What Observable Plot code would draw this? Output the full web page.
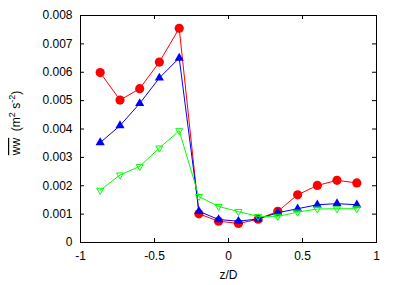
<!DOCTYPE html>
<html>
<head>
<meta charset="utf-8">
<script src="https://cdn.jsdelivr.net/npm/d3@7"></script>
<script src="https://cdn.jsdelivr.net/npm/@observablehq/plot@0.6"></script>
<style>
  html, body { margin: 0; padding: 0; background: #fff; }
  #chart { width: 407px; height: 285px; }
</style>
</head>
<body>
<div id="chart"></div>
<script>
const zD = [-0.867, -0.733, -0.6, -0.467, -0.333, -0.2, -0.067, 0.067, 0.2, 0.333, 0.467, 0.6, 0.733, 0.867];
const redVals = [0.00599, 0.00502, 0.00542, 0.00636, 0.00755, 0.00101, 0.00075, 0.00067, 0.00082, 0.00110, 0.00168, 0.00201, 0.00219, 0.00210];
const blueVals = [0.00352, 0.00412, 0.00490, 0.00580, 0.00650, 0.00110, 0.00081, 0.00075, 0.00083, 0.00105, 0.00119, 0.00133, 0.00137, 0.00133];
const greenVals = [0.00184, 0.00238, 0.00268, 0.00333, 0.00394, 0.00162, 0.00127, 0.00109, 0.00092, 0.00092, 0.00107, 0.00118, 0.00119, 0.00119];
const xTicks = [-1, -0.5, 0, 0.5, 1];
const xTickLabels = ["-1", "-0.5", "0", "0.5", "1"];
const yTicks = [0, 0.001, 0.002, 0.003, 0.004, 0.005, 0.006, 0.007, 0.008];
const yTickLabels = ["0", "0.001", "0.002", "0.003", "0.004", "0.005", "0.006", "0.007", "0.008"];

const rows = (vals) => zD.map((z, i) => ({z, v: vals[i]}));
const W = 407, H = 285;
const mL = 80, mR = 31, mT = 15, mB = 43;
const yMax = 0.008;
const tickPx = 4;
const tickLenY = tickPx * yMax / (H - mT - mB);
const tickLenX = tickPx * 2 / (W - mL - mR);

const plot = Plot.plot({
  width: W, height: H,
  marginLeft: mL, marginRight: mR, marginTop: mT, marginBottom: mB,
  style: {fontFamily: "'Liberation Sans', Arial, sans-serif", fontSize: "12px", color: "black", background: "white"},
  x: {domain: [-1, 1]},
  y: {domain: [0, yMax]},
  marks: [
    Plot.axisX({ticks: xTicks, tickSize: 0, tickPadding: 9, tickFormat: (d) => xTickLabels[xTicks.indexOf(d)], fontSize: 12, label: null}),
    Plot.axisY({ticks: yTicks, tickSize: 0, tickPadding: 8, tickFormat: (d) => yTickLabels[yTicks.indexOf(d)], fontSize: 12, label: null}),
    Plot.ruleX(xTicks.slice(1, -1), {x: d => d, y1: 0, y2: tickLenY, stroke: "black"}),
    Plot.ruleX(xTicks.slice(1, -1), {x: d => d, y1: yMax - tickLenY, y2: yMax, stroke: "black"}),
    Plot.ruleY(yTicks.slice(1, -1), {y: d => d, x1: -1, x2: -1 + tickLenX, stroke: "black"}),
    Plot.ruleY(yTicks.slice(1, -1), {y: d => d, x1: 1 - tickLenX, x2: 1, stroke: "black"}),
    Plot.line(rows(redVals), {x: "z", y: "v", stroke: "#ff0000", strokeWidth: 1}),
    Plot.dot(rows(redVals), {x: "z", y: "v", r: 4.6, fill: "#ff0000", symbol: "circle"}),
    Plot.line(rows(blueVals), {x: "z", y: "v", stroke: "#0000ff", strokeWidth: 1}),
    Plot.dot(rows(blueVals), {x: "z", y: "v", r: 3.4, fill: "#0000ff", symbol: "triangle"}),
    Plot.line(rows(greenVals), {x: "z", y: "v", stroke: "#00ff00", strokeWidth: 1}),
    Plot.dot(rows(greenVals), {x: "z", y: "v", r: 2.6, fill: "none", stroke: "#00ff00", strokeWidth: 1, symbol: "triangle", rotate: 180}),
    Plot.frame({stroke: "black", strokeWidth: 1}),
    Plot.text(["z/D"], {frameAnchor: "bottom", dy: 36, text: d => d, fontSize: 12, fill: "black"})
  ]
});

const svg = d3.select(plot);
const lbl = svg.append("text")
  .attr("transform", `translate(20,123) rotate(-90)`)
  .attr("text-anchor", "middle")
  .attr("font-size", 12)
  .attr("fill", "black");
lbl.append("tspan").attr("text-decoration", "overline").text("ww");
lbl.append("tspan").text("  (m");
lbl.append("tspan").attr("baseline-shift", "super").attr("font-size", 9).text("2");
lbl.append("tspan").text(" s");
lbl.append("tspan").attr("baseline-shift", "super").attr("font-size", 9).text("-2");
lbl.append("tspan").text(")");

document.getElementById("chart").appendChild(plot);
</script>
</body>
</html>
